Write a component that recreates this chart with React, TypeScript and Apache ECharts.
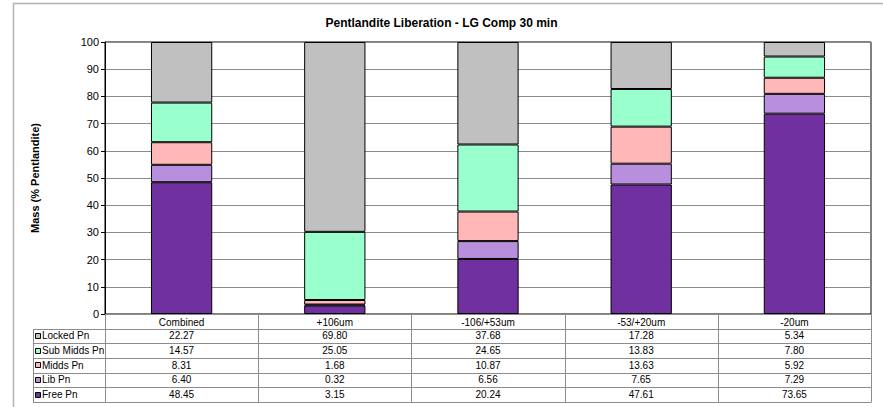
import React, { useEffect, useRef } from "react";
import * as echarts from "echarts";

const categories = ["Combined", "+106um", "-106/+53um", "-53/+20um", "-20um"];
const freePn = [48.45, 3.15, 20.24, 47.61, 73.65];
const libPn = [6.4, 0.32, 6.56, 7.65, 7.29];
const middsPn = [8.31, 1.68, 10.87, 13.63, 5.92];
const subMiddsPn = [14.57, 25.05, 24.65, 13.83, 7.8];
const lockedPn = [22.27, 69.8, 37.68, 17.28, 5.34];
const yTicks = [0, 10, 20, 30, 40, 50, 60, 70, 80, 90, 100];

const seriesDefs = [
  { name: "Free Pn", data: freePn, color: "#7030A0" },
  { name: "Lib Pn", data: libPn, color: "#B88FDC" },
  { name: "Midds Pn", data: middsPn, color: "#FFB7B7" },
  { name: "Sub Midds Pn", data: subMiddsPn, color: "#99FFCC" },
  { name: "Locked Pn", data: lockedPn, color: "#C0C0C0" },
];

const FONT = "'Liberation Sans', Arial, sans-serif";

export default function App() {
  const ref = useRef<HTMLDivElement>(null);
  useEffect(() => {
    document.body.style.margin = "0";
    const chart = echarts.init(ref.current!, null, { renderer: "svg" });
    const L = 105, R = 871, T = 314, rowH = 14.65, labelX = 33;
    const colW = (R - L) / categories.length;
    const rows = [...seriesDefs].reverse();
    const bottom = T + rowH * (rows.length + 1);
    const lineStyle = { stroke: "#8c8c8c", lineWidth: 1 };
    const g: any[] = [];
    // outer chart border (cropped)
    g.push({ type: "rect", shape: { x: 13.5, y: 3.5, width: 1000, height: 1000 }, style: { fill: "none", stroke: "#b4b4b4", lineWidth: 1.5 }, silent: true, z: -10 });
    // horizontal table lines
    for (let i = 1; i <= rows.length + 1; i++) {
      const y = Math.round(T + rowH * i) + 0.5;
      g.push({ type: "line", shape: { x1: labelX, y1: y, x2: R, y2: y }, style: lineStyle });
    }
    // vertical lines
    for (let c = 0; c <= categories.length; c++) {
      const x = Math.round(L + colW * c) + 0.5;
      g.push({ type: "line", shape: { x1: x, y1: T, x2: x, y2: Math.round(bottom) + 0.5 }, style: lineStyle });
    }
    g.push({ type: "line", shape: { x1: labelX + 0.5, y1: Math.round(T + rowH) + 0.5, x2: labelX + 0.5, y2: Math.round(bottom) + 0.5 }, style: lineStyle });
    rows.forEach((s, r) => {
      const cy = T + rowH * (r + 1.5);
      g.push({ type: "rect", shape: { x: 35.5, y: Math.round(cy - 3) + 0.5, width: 5, height: 5 }, style: { fill: s.color, stroke: "#000", lineWidth: 1 } });
      g.push({ type: "text", x: 42, y: cy, style: { text: s.name, font: `10px ${FONT}`, fill: "#000", textAlign: "left", textVerticalAlign: "middle" } });
      s.data.forEach((v, c) => {
        g.push({ type: "text", x: L + colW * (c + 0.5), y: cy, style: { text: v.toFixed(2), font: `10px ${FONT}`, fill: "#000", textAlign: "center", textVerticalAlign: "middle" } });
      });
    });

    chart.setOption({
      animation: false,
      backgroundColor: "#fff",
      textStyle: { fontFamily: FONT },
      title: {
        text: "Pentlandite Liberation - LG Comp 30 min",
        left: "center",
        top: 12,
        textStyle: { fontSize: 12, fontWeight: "bold", color: "#000", fontFamily: FONT },
      },
      grid: { left: L, right: 883 - R, top: 42, bottom: 407 - T, show: true, borderColor: "#000", borderWidth: 1, backgroundColor: "transparent" },
      xAxis: {
        type: "category",
        data: categories,
        axisLine: { show: true, lineStyle: { color: "#8c8c8c" } },
        axisTick: { show: false },
        axisLabel: { fontSize: 10, color: "#000", margin: 3, fontFamily: FONT },
      },
      yAxis: {
        type: "value",
        min: yTicks[0],
        max: yTicks[yTicks.length - 1],
        interval: 10,
        name: "Mass (% Pentlandite)",
        nameLocation: "middle",
        nameGap: 65,
        nameTextStyle: { fontSize: 11, fontWeight: "bold", color: "#000", fontFamily: FONT },
        axisLine: { show: true, lineStyle: { color: "#000" } },
        axisTick: { show: true, length: 4, lineStyle: { color: "#000" } },
        axisLabel: { fontSize: 11, color: "#000", margin: 6, fontFamily: FONT },
        splitLine: { show: true, lineStyle: { color: "#8c8c8c" } },
      },
      series: seriesDefs.map((s) => ({
        name: s.name,
        type: "bar",
        stack: "total",
        data: s.data,
        barWidth: "40%",
        itemStyle: { color: s.color, borderColor: "#000", borderWidth: 1 },
      })),
      graphic: g,
    });
    return () => chart.dispose();
  }, []);
  return <div ref={ref} style={{ width: 883, height: 407 }} />;
}
